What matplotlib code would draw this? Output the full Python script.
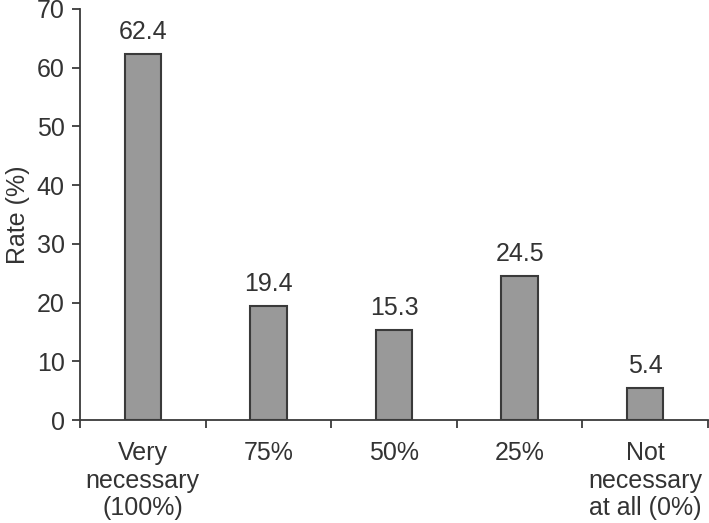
import matplotlib
matplotlib.use("Agg")
import matplotlib.pyplot as plt
import numpy as np

categories = ["Very\nnecessary\n(100%)", "75%", "50%", "25%", "Not\nnecessary\nat all (0%)"]
values = [62.4, 19.4, 15.3, 24.5, 5.4]
value_labels = ["62.4", "19.4", "15.3", "24.5", "5.4"]

plt.rcParams['font.family'] = ['Liberation Sans', 'DejaVu Sans']
text_color = "#333333"
axis_color = "#3a3a3a"
fs = 18

fig = plt.figure(figsize=(7.09, 5.23), dpi=100)
ax = fig.add_axes([80/709, 103/523, 628/709, 411/523])

x = np.arange(len(categories)) + 0.5
ax.bar(x, values, width=0.29, color="#999999", edgecolor="#3a3a3a", linewidth=1.5, zorder=2)
for xi, v, lab in zip(x, values, value_labels):
    ax.text(xi, v + 1.7, lab, ha="center", va="bottom", fontsize=fs, color=text_color)

ax.set_xlim(0, len(categories))
ax.set_ylim(0, 70)
ax.set_yticks(np.arange(0, 71, 10))
ax.set_xticks(np.arange(0, len(categories) + 1))
ax.set_xticklabels([])
ax.set_xticks(x, minor=True)
ax.set_xticklabels(categories, minor=True, fontsize=fs, color=text_color, linespacing=1.2)
ax.tick_params(axis="x", which="minor", length=0, pad=15)
ax.tick_params(axis="x", which="major", length=6, width=1.3, color=axis_color, direction="out")
ax.tick_params(axis="y", length=6, width=1.3, color=axis_color, labelsize=fs, labelcolor=text_color, pad=5)

for s in ["top", "right"]:
    ax.spines[s].set_visible(False)
for s in ["left", "bottom"]:
    ax.spines[s].set_color(axis_color)
    ax.spines[s].set_linewidth(1.3)

ax.set_ylabel("Rate (%)", fontsize=fs, color=text_color, labelpad=5)

fig.savefig("out.png", dpi=100)
